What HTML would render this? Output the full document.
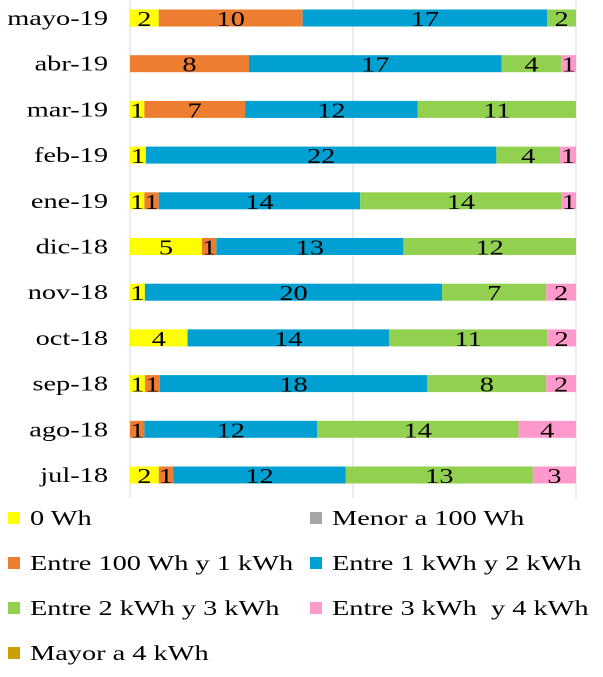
<!DOCTYPE html>
<html><head><meta charset="utf-8"><style>
body{margin:0;background:#fff;width:603px;height:677px;overflow:hidden}
svg{display:block;font-family:"Liberation Serif",serif}
</style></head><body>
<svg id="chart" width="603" height="677"></svg>
<script>
const categories=["mayo-19","abr-19","mar-19","feb-19","ene-19","dic-18","nov-18","oct-18","sep-18","ago-18","jul-18"];
const seriesNames=["0 Wh","Menor a 100 Wh","Entre 100 Wh y 1 kWh","Entre 1 kWh y 2 kWh","Entre 2 kWh y 3 kWh","Entre 3 kWh  y 4 kWh","Mayor a 4 kWh"];
const colors=["#FFFF00","#A5A5A5","#ED7D31","#00A0D2","#92D050","#FF99CC","#C9A000"];
const s0Wh=[2,0,1,1,1,5,1,4,1,0,2];
const sMenor100=[0,0,0,0,0,0,0,0,0,0,0];
const s100to1k=[10,8,7,0,1,1,0,0,1,1,1];
const s1to2k=[17,17,12,22,14,13,20,14,18,12,12];
const s2to3k=[2,4,11,4,14,12,7,11,8,14,13];
const s3to4k=[0,1,0,1,1,0,2,2,2,4,3];
const sMayor4k=[0,0,0,0,0,0,0,0,0,0,0];
const series=[s0Wh,sMenor100,s100to1k,s1to2k,s2to3k,s3to4k,sMayor4k];
const NS="http://www.w3.org/2000/svg";
const svg=document.getElementById("chart");
const x0=130,x1=576,yTop=18,step=45.7,bh=17,SX=1.35;
const xs=f=>x0+f*(x1-x0);
const ys=i=>yTop+i*step;
function mk(t,a){const e=document.createElementNS(NS,t);for(const k in a)e.setAttribute(k,a[k]);svg.appendChild(e);return e;}
function txt(x,y,s,anchor){const t=mk("text",{x:0,y:0,"text-anchor":anchor,"font-size":21,fill:"#000",transform:`translate(${x},${y}) scale(${SX},1)`});t.textContent=s;t.style.whiteSpace="pre";return t;}
[0,0.5,1].forEach(g=>{
const l=mk("line",{x1:xs(g),x2:xs(g),y1:0,y2:498,stroke:"#D9D9D9","stroke-width":1});


});
categories.forEach((c,i)=>{
const t=txt(108,ys(i)+7,c,"end");


let total=0;series.forEach(s=>total+=s[i]);
let acc=0;
series.forEach((s,k)=>{
const v=s[i];if(!v)return;
const a=xs(acc/total),b=xs((acc+v)/total);acc+=v;
const r=mk("rect",{x:a,y:ys(i)-bh/2,width:b-a,height:bh,fill:colors[k]});


const lb=txt((a+b)/2,ys(i)+8,String(v),"middle");


});
});
const legPos=[[8,524],[310,524],[8,569],[310,569],[8,614],[310,614],[8,659]];
seriesNames.forEach((n,k)=>{
const [lx,ly]=legPos[k];
const r=mk("rect",{x:lx,y:ly-12,width:12,height:12,fill:colors[k]});


const t=txt(lx+22,ly+1,n,"start");


});
</script>
</body></html>
